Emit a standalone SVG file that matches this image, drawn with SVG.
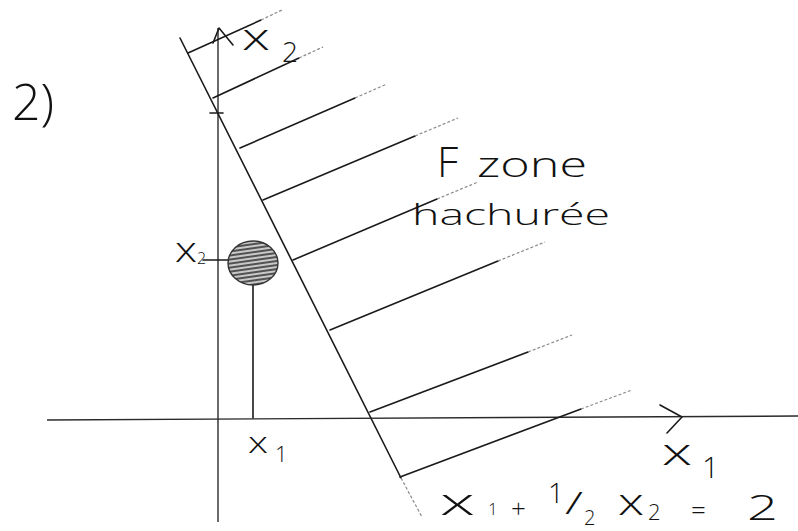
<svg xmlns="http://www.w3.org/2000/svg" width="798" height="531" viewBox="0 0 798 531">
<style>
.ln{stroke:#1a1a1a;stroke-width:1.6;fill:none;stroke-linecap:round;stroke-linejoin:round}
.ax{stroke:#2a2a2a;stroke-width:1.4;fill:none}
.tail{stroke:#8a8a8a;stroke-width:1.2;stroke-dasharray:3 2;fill:none}
.t{font-family:"Open Sans","DejaVu Sans",sans-serif;font-weight:300;fill:#111}
</style>
<defs>
<pattern id="hatch" width="6" height="4" patternUnits="userSpaceOnUse" patternTransform="rotate(-8)">
<rect width="6" height="4" fill="#c8c8c8"/>
<line x1="0" y1="1" x2="6" y2="1" stroke="#333" stroke-width="1.6"/>
</pattern>
</defs>
<rect width="798" height="531" fill="#fff"/>
<g id="axes">
<line class="ax" x1="47" y1="420" x2="798" y2="416"/>
<line class="ax" x1="218" y1="28" x2="218" y2="522"/>
<polyline class="ln" points="660,405 682,417 667,433"/>
<polyline class="ln" points="213,43 219,28 233,45"/>
<line class="ln" x1="210" y1="113" x2="223" y2="113"/>
</g>
<g id="connectors">
<line class="ln" x1="180" y1="38" x2="401" y2="478"/>
<line class="tail" x1="401" y1="478" x2="422" y2="517"/>
<line class="ln" x1="188" y1="53" x2="261" y2="20"/><line class="tail" x1="261" y1="20" x2="282" y2="10"/>
<line class="ln" x1="213" y1="98" x2="299" y2="58"/><line class="tail" x1="299" y1="58" x2="323" y2="47"/>
<line class="ln" x1="240" y1="148" x2="355" y2="98"/><line class="tail" x1="355" y1="98" x2="387" y2="84"/>
<line class="ln" x1="263" y1="200" x2="415" y2="136"/><line class="tail" x1="415" y1="136" x2="458" y2="118"/>
<line class="ln" x1="293" y1="260" x2="437" y2="199"/><line class="tail" x1="437" y1="199" x2="478" y2="182"/>
<line class="ln" x1="330" y1="330" x2="498" y2="261"/><line class="tail" x1="498" y1="261" x2="545" y2="242"/>
<line class="ln" x1="370" y1="412" x2="528" y2="352"/><line class="tail" x1="528" y1="352" x2="572" y2="335"/>
<line class="ln" x1="400" y1="477" x2="581" y2="409"/><line class="tail" x1="581" y1="409" x2="632" y2="390"/>
<line class="ln" x1="253" y1="284" x2="253" y2="418"/>
<line class="ln" x1="203" y1="260" x2="230" y2="260"/>
</g>
<g id="point">
<ellipse cx="253" cy="263" rx="25" ry="22" fill="url(#hatch)" stroke="#333" stroke-width="1.4"/>
</g>
<g id="labels">
<text class="t" x="12" y="120" font-size="50">2)</text>
<text class="t" x="242" y="50" font-size="36" textLength="28" lengthAdjust="spacingAndGlyphs">x</text>
<text class="t" x="282" y="62" font-size="28">2</text>
<text class="t" x="175" y="262" font-size="34" textLength="22" lengthAdjust="spacingAndGlyphs">x</text>
<text class="t" x="197" y="264" font-size="16">2</text>
<text class="t" x="248" y="453" font-size="30" textLength="20" lengthAdjust="spacingAndGlyphs">x</text>
<text class="t" x="275" y="462" font-size="22">1</text>
<text class="t" x="662" y="465" font-size="36" textLength="30" lengthAdjust="spacingAndGlyphs">x</text>
<text class="t" x="702" y="478" font-size="30">1</text>
<text class="t" x="437" y="177" font-size="42">F</text>
<text class="t" x="477" y="177" font-size="34" textLength="110" lengthAdjust="spacingAndGlyphs">zone</text>
<text class="t" x="412" y="225" font-size="30" textLength="198" lengthAdjust="spacingAndGlyphs">hachurée</text>
</g>
<g id="equation">
<text class="t" x="440" y="515" font-size="36" textLength="35" lengthAdjust="spacingAndGlyphs">x</text>
<text class="t" x="488" y="515" font-size="17">1</text>
<text class="t" x="511" y="518" font-size="26">+</text>
<text class="t" x="548" y="503" font-size="28">1</text>
<text class="t" x="565" y="514" font-size="32" textLength="18" lengthAdjust="spacingAndGlyphs">/</text>
<text class="t" x="584" y="525" font-size="20">2</text>
<text class="t" x="618" y="515" font-size="36" textLength="26" lengthAdjust="spacingAndGlyphs">x</text>
<text class="t" x="648" y="520" font-size="22">2</text>
<text class="t" x="691" y="519" font-size="26">=</text>
<text class="t" x="747" y="520" font-size="34" textLength="31" lengthAdjust="spacingAndGlyphs">2</text>
</g>
</svg>
